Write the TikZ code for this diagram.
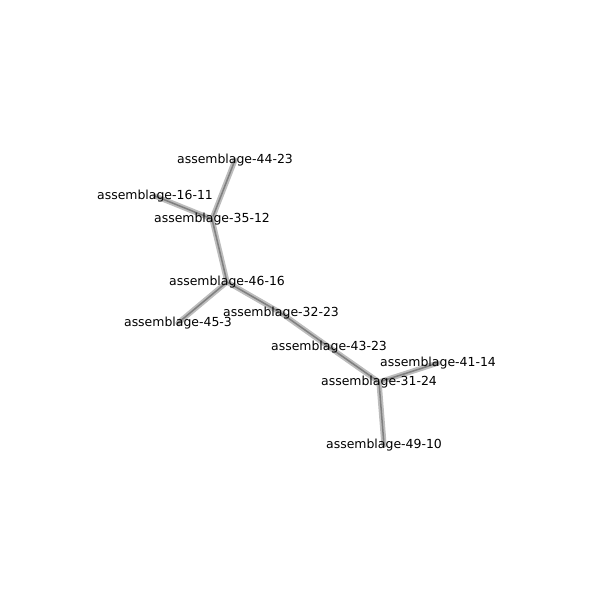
\documentclass[tikz,border=0pt]{standalone}
\usepackage{fontspec}
\setmainfont{DejaVu Sans}
\usetikzlibrary{backgrounds}
\tikzset{
  asm/.style={inner sep=0pt, font=\fontsize{9}{10}\selectfont},
  link/.style={line width=3.8pt, black!26, line cap=round,
    postaction={draw=black!50, line width=1.1pt}}
}
\begin{document}
\begin{tikzpicture}[x=0.01in, y=-0.01in]
                          \useasboundingbox (0,0) rectangle (600,600);
                          \node[asm] (a4423) at (235,160) {assemblage-44-23};
                          \node[asm] (a1611) at (155,196) {assemblage-16-11};
                          \node[asm] (a3512) at (212,219) {assemblage-35-12};
                          \node[asm] (a4616) at (227,282) {assemblage-46-16};
                          \node[asm] (a453) at (178,323) {assemblage-45-3};
                          \node[asm] (a3223) at (281,313) {assemblage-32-23};
                          \node[asm] (a4323) at (329,347) {assemblage-43-23};
                          \node[asm] (a3124) at (379,382) {assemblage-31-24};
                          \node[asm] (a4114) at (438,363) {assemblage-41-14};
                          \node[asm] (a4910) at (384,445) {assemblage-49-10};
                          \begin{scope}[on background layer]
                          \draw[link] (a4423.center) -- (a3512.center);
                          \draw[link] (a1611.center) -- (a3512.center);
                          \draw[link] (a3512.center) -- (a4616.center);
                          \draw[link] (a4616.center) -- (a453.center);
                          \draw[link] (a4616.center) -- (a3223.center);
                          \draw[link] (a3223.center) -- (a4323.center);
                          \draw[link] (a4323.center) -- (a3124.center);
                          \draw[link] (a3124.center) -- (a4114.center);
                          \draw[link] (a3124.center) -- (a4910.center);
                          \end{scope}
                      \end{tikzpicture}
\end{document}
